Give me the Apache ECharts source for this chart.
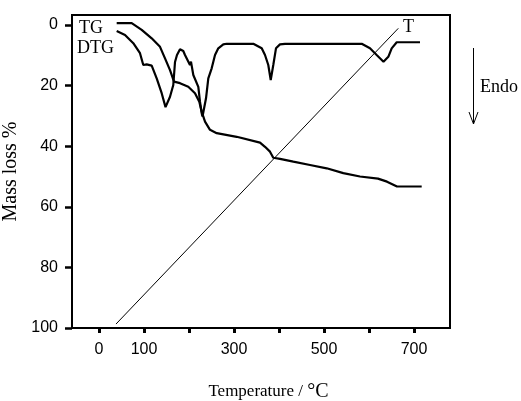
<!DOCTYPE html>
<html>
<head>
<meta charset="utf-8">
<script src="https://cdn.jsdelivr.net/npm/echarts@6/dist/echarts.min.js"></script>
<style>
  html, body { margin: 0; padding: 0; background: #fff; }
  #chart { width: 521px; height: 401px; }
</style>
</head>
<body>
<div id="chart"></div>
<script>
// TG curve (mass loss %) vs temperature
var tgTemp = [39.3, 72.7, 94.9, 117.1, 135.6, 146.7, 157.8, 166.7, 180, 198.4, 213.3, 222.9, 228.2, 235.6, 246.7, 261.6, 306, 357.8, 368.9, 380, 387.3, 402.2, 431.8, 468.9, 506, 542.9, 580, 620, 640, 662.2, 717.1];
var tgMass = [-0.6, -0.6, 1.6, 4.4, 7.2, 11.0, 14.9, 18.7, 19.2, 20.4, 22.5, 25.3, 28.6, 31.9, 34.6, 35.7, 36.9, 38.8, 40.2, 41.8, 43.8, 44.2, 45.1, 46.2, 47.3, 48.9, 50.0, 50.7, 51.7, 53.3, 53.3];

// DTG curve
var dtgTemp = [39.3, 57.8, 76.2, 91.1, 98.4, 106, 117.1, 128.2, 139.3, 147.8, 157.8, 165.1, 168.9, 173.3, 180, 187.3, 191.1, 194.9, 202.2, 204.4, 209.6, 213.3, 220.7, 224.4, 228.2, 230, 237.8, 242.9, 250.4, 257.8, 265.1, 276.2, 283.8, 342.9, 361.6, 368.9, 376.2, 381.6, 387.3, 393.3, 402.2, 413.3, 583.8, 602.2, 617.1, 632.2, 642.9, 650.4, 661.6, 713.3];
var dtgVal = [2.0, 3.3, 6.0, 9.3, 13.2, 13.0, 13.4, 17.6, 22.5, 27.1, 23.7, 19.8, 12.2, 9.9, 8.0, 8.6, 9.9, 9.3, 13.2, 12.1, 16.5, 15.9, 20.4, 25.3, 29.1, 30.2, 24.2, 17.6, 14.3, 9.9, 7.7, 6.4, 6.2, 6.2, 7.7, 9.9, 13.2, 18.2, 13.2, 7.7, 6.4, 6.2, 6.2, 7.7, 9.9, 12.1, 10.5, 7.7, 5.7, 5.7];

// T (temperature programme) line
var tLineTemp = [37.8, 665.1];
var tLineVal = [98.7, 1.1];

var yTicks = [0, 20, 40, 60, 80, 100];
var xTicks = [0, 100, 200, 300, 400, 500, 600, 700];
var xLabels = [0, 100, 300, 500, 700];

function zip(a, b) {
    return a.map(function (v, i) { return [v, b[i]]; });
}

var dom = document.getElementById('chart');
var myChart = echarts.init(dom, null, { renderer: 'canvas' });

var serif = '"Liberation Serif", "Times New Roman", serif';
var sans = '"Liberation Sans", Arial, sans-serif';

var option = {
    animation: false,
    backgroundColor: '#fff',
    grid: {
        left: 72, right: 71, top: 15, bottom: 73,
        show: true,
        borderColor: '#000',
        borderWidth: 2,
        containLabel: false,
        outerBoundsMode: 'none'
    },
    xAxis: {
        type: 'value',
        min: -60,
        max: 780,
        name: '{a|Temperature / }{c|°C}',
        nameLocation: 'middle',
        nameGap: 54,
        nameTextStyle: {
            padding: [0, 0, 0, 15],
            rich: {
                a: { fontFamily: serif, fontSize: 17, color: '#000' },
                c: { fontFamily: serif, fontSize: 20, color: '#000' }
            }
        },
        axisLine: { show: true, onZero: false, lineStyle: { color: '#000', width: 2 } },
        axisTick: { show: true, length: 5, customValues: xTicks, lineStyle: { color: '#000', width: 3 } },
        axisLabel: { customValues: xLabels, margin: 14, color: '#000', fontFamily: sans, fontSize: 16 },
        splitLine: { show: false }
    },
    yAxis: {
        type: 'value',
        inverse: true,
        min: -3.3,
        max: 100,
        name: 'Mass loss %',
        nameLocation: 'middle',
        nameGap: 40,
        nameTextStyle: { fontFamily: serif, fontSize: 20, color: '#000' },
        axisLine: { show: true, onZero: false, lineStyle: { color: '#000', width: 2 } },
        axisTick: { show: true, length: 7, customValues: yTicks, lineStyle: { color: '#000', width: 2.5 } },
        axisLabel: { customValues: yTicks, margin: 14, color: '#000', fontFamily: sans, fontSize: 16 },
        splitLine: { show: false }
    },
    series: [
        {
            name: 'TG',
            type: 'line',
            data: zip(tgTemp, tgMass),
            showSymbol: false,
            lineStyle: { color: '#000', width: 2.2 }
        },
        {
            name: 'DTG',
            type: 'line',
            data: zip(dtgTemp, dtgVal),
            showSymbol: false,
            lineStyle: { color: '#000', width: 2.2 }
        },
        {
            name: 'T',
            type: 'line',
            data: zip(tLineTemp, tLineVal),
            showSymbol: false,
            lineStyle: { color: '#000', width: 1 }
        }
    ],
    graphic: [
        { type: 'text', left: 79, top: 19, style: { text: 'TG', font: '18px ' + serif, fill: '#000' } },
        { type: 'text', left: 77, top: 39, style: { text: 'DTG', font: '18px ' + serif, fill: '#000' } },
        { type: 'text', left: 403, top: 18, style: { text: 'T', font: '18px ' + serif, fill: '#000' } },
        { type: 'text', left: 480, top: 78, style: { text: 'Endo', font: '18px ' + serif, fill: '#000' } },
        { type: 'line', shape: { x1: 473.5, y1: 48, x2: 473.5, y2: 124 }, style: { stroke: '#000', lineWidth: 1 } },
        { type: 'polyline', shape: { points: [[469, 112], [473.5, 124], [478, 112]] }, style: { stroke: '#000', lineWidth: 1, fill: null } }
    ]
};

myChart.setOption(option);
</script>
</body>
</html>
